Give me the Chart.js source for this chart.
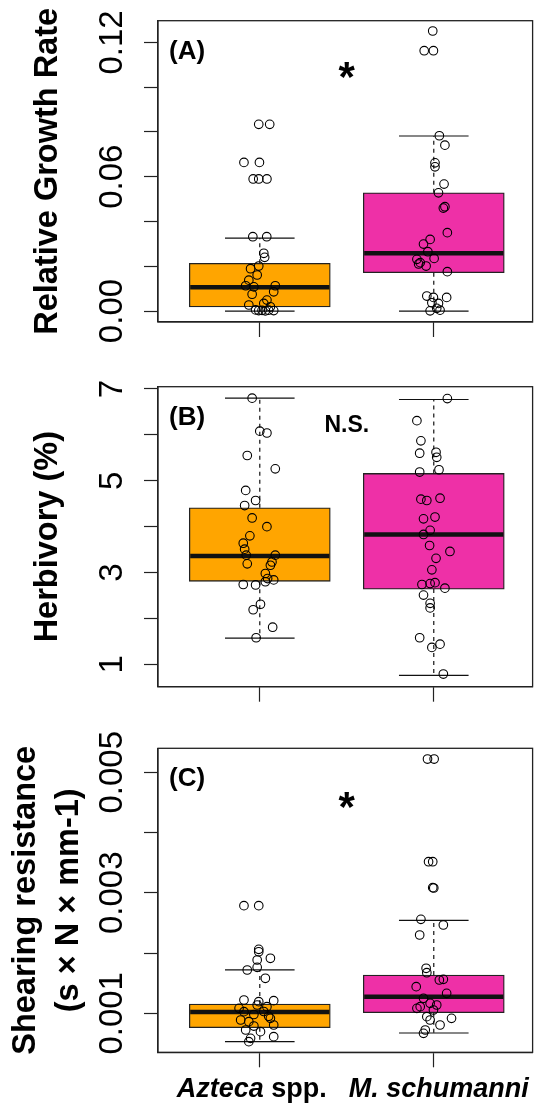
<!DOCTYPE html>
<html>
<head>
<meta charset="utf-8">
<script src="https://cdn.jsdelivr.net/npm/chart.js@4.4.0/dist/chart.umd.min.js"></script>
<style>
  html, body { margin: 0; padding: 0; background: #fff; width: 538px; height: 1105px; overflow: hidden; }
  canvas { position: absolute; left: 0; top: 0; }
</style>
</head>
<body>
<canvas id="chartA" width="538" height="1105"></canvas>
<canvas id="chartB" width="538" height="1105"></canvas>
<canvas id="chartC" width="538" height="1105"></canvas>
<script>
// --- data ---
const groupPos = [1, 2];
const groupItalic = ['Azteca', 'M. schumanni'];
const groupRest = [' spp.', ''];
const boxColors = ['#FFA500', '#EE30A7'];

// (A) relative growth rate
const rgrLow = [0.0, 0.0];
const rgrQ1 = [0.0018, 0.0171];
const rgrMed = [0.0106, 0.0258];
const rgrQ3 = [0.0213, 0.0528];
const rgrHigh = [0.0326, 0.0782];
const rgrAzteca = [0.0834, 0.0834, 0.0664, 0.0664, 0.0590, 0.0590, 0.0590, 0.0332, 0.0332, 0.0258, 0.0240, 0.0201, 0.0189, 0.0161, 0.0138, 0.0113, 0.0113, 0.0108, 0.0086, 0.0075, 0.0049, 0.0034, 0.0027, 0.0019, 0.0005, 0.0002, 0.0003, 0.0001, 0.0004, 0.0002];
const rgrAztecaJit = [-0.006, 0.057, -0.091, -0.002, -0.038, -0.006, 0.041, -0.040, 0.040, 0.023, 0.028, -0.006, -0.053, -0.015, -0.063, -0.081, 0.089, -0.034, 0.080, -0.044, 0.041, 0.023, -0.063, 0.061, -0.024, -0.006, 0.013, 0.032, 0.051, 0.080];
const rgrSchum = [0.1251, 0.1163, 0.1163, 0.0783, 0.0741, 0.0662, 0.0644, 0.0567, 0.0528, 0.0466, 0.0460, 0.0350, 0.0320, 0.0299, 0.0265, 0.0235, 0.0231, 0.0216, 0.0210, 0.0201, 0.0176, 0.0067, 0.0061, 0.0061, 0.0037, 0.0034, 0.0012, 0.0001, 0.0004];
const rgrSchumJit = [-0.006, -0.055, -0.002, 0.032, 0.064, 0.007, 0.007, 0.059, 0.027, 0.064, 0.055, 0.078, -0.021, -0.059, -0.034, 0.002, -0.097, -0.078, -0.087, -0.044, 0.078, -0.040, -0.002, 0.074, -0.011, 0.027, 0.017, -0.021, 0.036];
const rgrTicks = [0, 0.02, 0.04, 0.06, 0.08, 0.10, 0.12];
const rgrTickLabels = ['0.00', '', '', '0.06', '', '', '0.12'];

// (B) herbivory
const herbLow = [1.57, 0.76];
const herbQ1 = [2.81, 2.64];
const herbMed = [3.36, 3.83];
const herbQ3 = [4.41, 5.16];
const herbHigh = [6.80, 6.77];
const herbAzteca = [6.80, 6.08, 6.04, 5.55, 5.26, 4.79, 4.57, 4.46, 4.19, 4.00, 3.80, 3.64, 3.51, 3.38, 3.19, 3.38, 3.23, 3.16, 2.98, 2.87, 2.84, 2.80, 2.74, 2.73, 2.31, 2.19, 1.81, 1.58];
const herbAztecaJit = [-0.044, 0.0, 0.041, -0.072, 0.089, -0.081, -0.024, -0.087, -0.044, 0.041, -0.057, -0.095, -0.087, -0.078, -0.072, 0.089, 0.070, 0.061, 0.032, 0.045, 0.080, 0.032, -0.095, -0.024, 0.004, -0.038, 0.074, -0.021];
const herbSchum = [6.79, 6.31, 5.87, 5.60, 5.62, 5.51, 5.24, 5.19, 4.60, 4.57, 4.62, 4.17, 4.21, 3.92, 3.83, 3.59, 3.46, 3.31, 3.06, 2.76, 2.74, 2.78, 2.66, 2.51, 2.33, 2.23, 1.58, 1.37, 1.44, 0.79];
const herbSchumJit = [0.078, -0.097, -0.074, -0.081, 0.013, 0.017, 0.030, -0.081, -0.074, -0.040, 0.036, -0.059, 0.007, -0.021, -0.059, -0.024, 0.093, 0.013, -0.011, -0.021, -0.068, 0.007, 0.064, -0.059, -0.021, -0.021, -0.081, -0.011, 0.036, 0.055];
const herbTicks = [1, 2, 3, 4, 5, 6, 7];
const herbTickLabels = ['1', '', '3', '', '5', '', '7'];

// (C) shearing resistance
const shearLow = [0.00053, 0.000673];
const shearQ1 = [0.000761, 0.00101];
const shearMed = [0.001022, 0.001276];
const shearQ3 = [0.001154, 0.001636];
const shearHigh = [0.00172, 0.002543];
const shearAzteca = [0.002786, 0.002786, 0.002062, 0.002022, 0.001913, 0.001885, 0.001719, 0.001763, 0.001581, 0.001221, 0.001193, 0.00121, 0.001138, 0.00111, 0.001083, 0.001027, 0.000917, 0.000889, 0.000861, 0.000806, 0.000789, 0.000695, 0.000723, 0.000612, 0.000529, 0.000585, 0.00103, 0.00098, 0.00095];
const shearAztecaJit = [-0.091, -0.006, -0.006, -0.006, 0.061, -0.015, -0.072, -0.015, 0.032, -0.091, -0.006, 0.080, -0.015, 0.041, -0.119, -0.091, 0.061, -0.110, -0.063, 0.080, -0.034, 0.004, -0.081, 0.080, -0.063, -0.053, 0.023, -0.034, 0.051];
const shearSchum = [0.00522, 0.00522, 0.003516, 0.003516, 0.003085, 0.00308, 0.00256, 0.002466, 0.0023, 0.001747, 0.001674, 0.001553, 0.001564, 0.001442, 0.001332, 0.001249, 0.001166, 0.001138, 0.00111, 0.001083, 0.001055, 0.000944, 0.000889, 0.000917, 0.000806, 0.000723, 0.000668];
const shearSchumJit = [-0.036, 0.002, -0.030, -0.006, -0.006, 0.0, -0.074, 0.055, -0.081, -0.044, -0.040, 0.032, 0.055, -0.101, 0.074, -0.059, -0.021, 0.017, -0.078, -0.097, -0.002, -0.040, -0.021, 0.102, 0.036, -0.049, -0.059];
const shearTicks = [0.001, 0.002, 0.003, 0.004, 0.005];
const shearTickLabels = ['0.001', '', '0.003', '', '0.005'];

const FONT = '"Liberation Sans", Arial, sans-serif';

// a straight line segment (median, whisker, cap)
function seg(x1, y1, x2, y2, width, dash) {
    return {
        type: 'line',
        data: [{x: x1, y: y1}, {x: x2, y: y2}],
        borderColor: '#111',
        borderWidth: width,
        borderDash: dash,
        pointRadius: 0,
        fill: false,
        order: 2
    };
}

function buildDatasets(low, q1, med, q3, high, pts) {
    const sets = [{
        type: 'bar',
        data: groupPos.map((g, i) => ({x: g, y: [q1[i], q3[i]]})),
        backgroundColor: boxColors,
        borderColor: '#222',
        borderWidth: 1.3,
        borderSkipped: false,
        barThickness: 141,
        order: 9
    }];
    groupPos.forEach((g, i) => {
        sets.push(seg(g - 0.4, med[i], g + 0.4, med[i], 4.5, []));
        sets.push(seg(g, q3[i], g, high[i], 1.2, [4, 4]));
        sets.push(seg(g, q1[i], g, low[i], 1.2, [4, 4]));
        sets.push(seg(g - 0.2, high[i], g + 0.2, high[i], 1.2, []));
        sets.push(seg(g - 0.2, low[i], g + 0.2, low[i], 1.2, []));
    });
    pts.forEach((p, i) => {
        sets.push({
            type: 'scatter',
            data: p[0].map((v, k) => ({x: groupPos[i] + p[1][k], y: v})),
            pointRadius: 4.3,
            borderColor: '#000',
            borderWidth: 1.1,
            backgroundColor: 'rgba(0,0,0,0)',
            order: 0
        });
    });
    return sets;
}

// frame, rotated tick labels, panel letter, significance mark, group names
const panelText = {
    id: 'panelText',
    afterDraw(chart, args, opts) {
        const {ctx, chartArea: a, scales: {x, y}} = chart;
        ctx.save();
        ctx.strokeStyle = '#222';
        ctx.lineWidth = 1.3;
        ctx.strokeRect(a.left, a.top, a.right - a.left, a.bottom - a.top);

        ctx.fillStyle = '#000';
        ctx.font = '33px ' + FONT;
        ctx.textAlign = 'center';
        ctx.textBaseline = 'middle';
        opts.ticks.forEach((v, i) => {
            if (!opts.tickLabels[i]) return;
            ctx.save();
            ctx.translate(113, y.getPixelForValue(v));
            ctx.rotate(-Math.PI / 2);
            ctx.fillText(opts.tickLabels[i], 0, 0);
            ctx.restore();
        });

        ctx.font = 'bold 26px ' + FONT;
        ctx.textAlign = 'left';
        ctx.fillText(opts.letter, a.left + 11, a.top + 31);

        ctx.font = 'bold ' + opts.sigSize + 'px ' + FONT;
        ctx.textAlign = 'center';
        const sy = y.getPixelForValue(opts.sigY) + (opts.sig === '*' ? opts.sigSize * 0.15 : 0);
        ctx.fillText(opts.sig, x.getPixelForValue(1.5), sy);

        if (opts.xLabels) {
            const shift = [-8, 5];
            ctx.textBaseline = 'alphabetic';
            ctx.textAlign = 'left';
            groupPos.forEach((g, i) => {
                ctx.font = 'italic bold 27px ' + FONT;
                const w1 = ctx.measureText(groupItalic[i]).width;
                ctx.font = 'bold 27px ' + FONT;
                const w2 = ctx.measureText(groupRest[i]).width;
                const x0 = x.getPixelForValue(g) + shift[i] - (w1 + w2) / 2;
                ctx.font = 'italic bold 27px ' + FONT;
                ctx.fillText(groupItalic[i], x0, 1097);
                ctx.font = 'bold 27px ' + FONT;
                ctx.fillText(groupRest[i], x0 + w1, 1097);
            });
        }
        ctx.restore();
    }
};

function makeChart(id, cfg) {
    return new Chart(document.getElementById(id).getContext('2d'), {
        type: 'bar',
        data: {datasets: cfg.datasets},
        options: {
            responsive: false,
            animation: false,
            events: [],
            layout: {padding: {top: cfg.top, bottom: cfg.bottom, left: 0, right: 1}},
            plugins: {
                legend: {display: false},
                tooltip: {enabled: false},
                panelText: cfg.text
            },
            scales: {
                x: {
                    type: 'linear',
                    min: 0.415,
                    max: 2.568,
                    offset: false,
                    bounds: 'data',
                    afterBuildTicks: s => { s.ticks = groupPos.map(v => ({value: v})); },
                    afterFit: s => { s.height = cfg.xh; },
                    ticks: {display: false},
                    grid: {offset: false, drawOnChartArea: false, drawTicks: true, tickLength: 15, tickColor: '#222', tickWidth: 1.2},
                    border: {display: true, color: '#222', width: 1.2}
                },
                y: {
                    type: 'linear',
                    min: cfg.min,
                    max: cfg.max,
                    beginAtZero: false,
                    bounds: 'data',
                    afterBuildTicks: s => { s.ticks = cfg.ticks.map(v => ({value: v})); },
                    afterFit: s => { s.width = 158; },
                    ticks: {display: false},
                    grid: {drawOnChartArea: false, drawTicks: true, tickLength: 14, tickColor: '#222', tickWidth: 1.2},
                    border: {display: true, color: '#222', width: 1.2},
                    title: {
                        display: true,
                        text: cfg.title,
                        color: '#000',
                        font: {family: FONT, size: 32.5, weight: 'bold', lineHeight: cfg.titleLH},
                        padding: {top: cfg.titlePad, bottom: 0}
                    }
                }
            }
        },
        plugins: [panelText]
    });
}

const chartA = makeChart('chartA', {
    datasets: buildDatasets(rgrLow, rgrQ1, rgrMed, rgrQ3, rgrHigh,
        [[rgrAzteca, rgrAztecaJit], [rgrSchum, rgrSchumJit]]),
    top: 20.7, bottom: 760, xh: 23,
    min: -0.0049, max: 0.1297, ticks: rgrTicks,
    title: 'Relative Growth Rate', titleLH: 1.2, titlePad: 29,
    text: {ticks: rgrTicks, tickLabels: rgrTickLabels, letter: '(A)', sig: '*', sigSize: 42, sigY: 0.1063}
});

const chartB = makeChart('chartB', {
    datasets: buildDatasets(herbLow, herbQ1, herbMed, herbQ3, herbHigh,
        [[herbAzteca, herbAztecaJit], [herbSchum, herbSchumJit]]),
    top: 386.7, bottom: 390.3, xh: 28,
    min: 0.514, max: 7.049, ticks: herbTicks,
    title: 'Herbivory (%)', titleLH: 1.2, titlePad: 29,
    text: {ticks: herbTicks, tickLabels: herbTickLabels, letter: '(B)', sig: 'N.S.', sigSize: 23, sigY: 6.21}
});

const chartC = makeChart('chartC', {
    datasets: buildDatasets(shearLow, shearQ1, shearMed, shearQ3, shearHigh,
        [[shearAzteca, shearAztecaJit], [shearSchum, shearSchumJit]]),
    top: 748.3, bottom: 22.7, xh: 30,
    min: 0.000353, max: 0.005398, ticks: shearTicks,
    title: ['Shearing resistance', '(s \u00d7 N \u00d7 mm-1)'], titleLH: 1.31, titlePad: 4.7,
    text: {ticks: shearTicks, tickLabels: shearTickLabels, letter: '(C)', sig: '*', sigSize: 42, sigY: 0.00449, xLabels: true}
});
</script>
</body>
</html>
